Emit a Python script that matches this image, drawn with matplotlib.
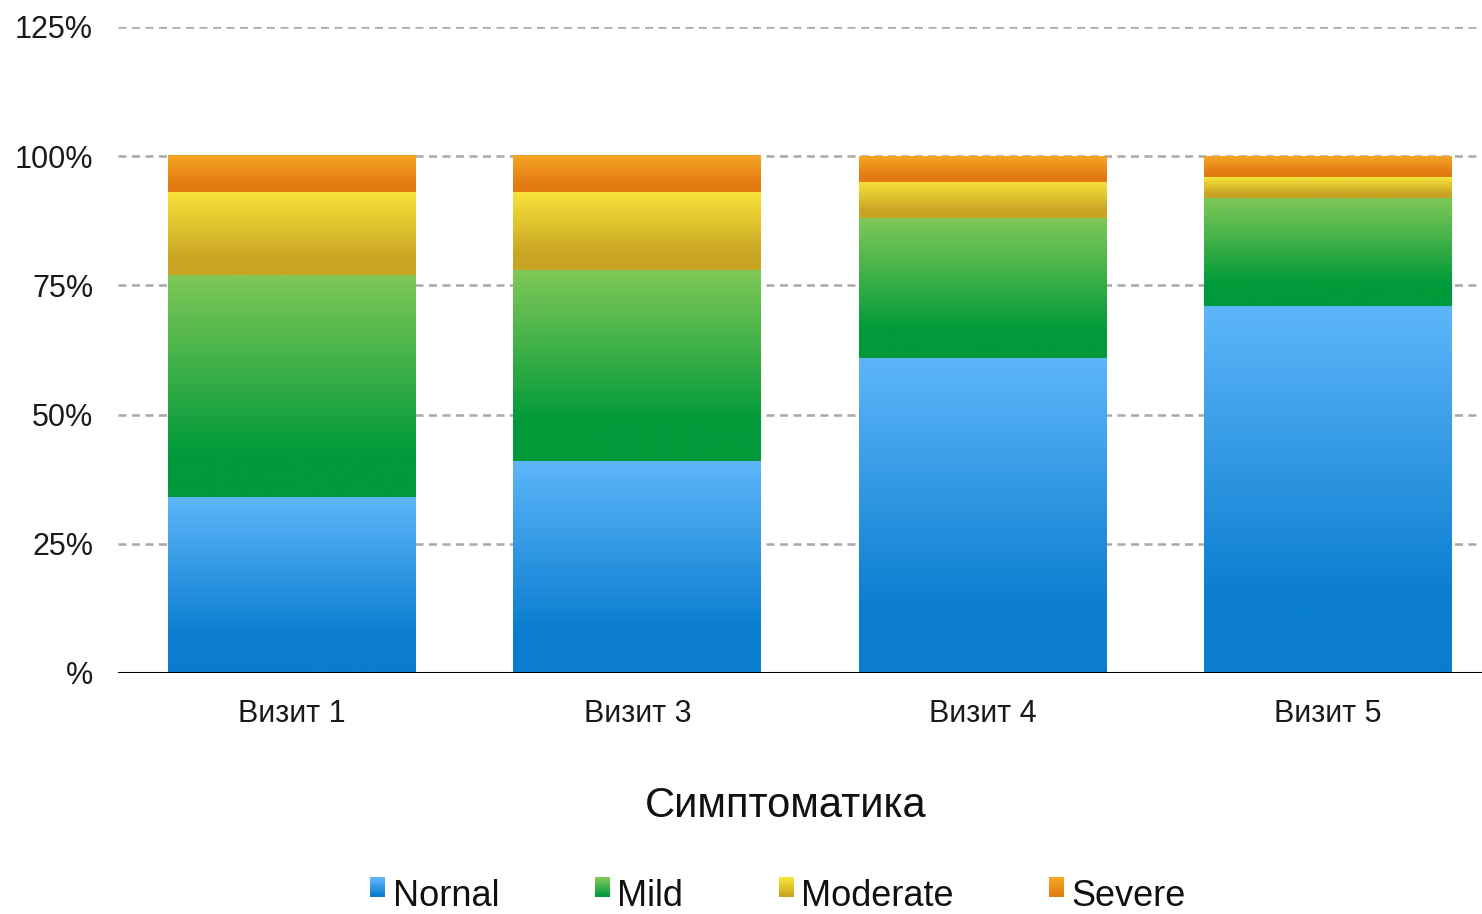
import numpy as np
import matplotlib
matplotlib.use("Agg")
import matplotlib.pyplot as plt
from matplotlib.colors import LinearSegmentedColormap, to_rgb
from matplotlib.legend_handler import HandlerBase
from matplotlib.patches import Rectangle

# ---- data ----
categories = ["Визит 1", "Визит 3", "Визит 4", "Визит 5"]
series_names = ["Nornal", "Mild", "Moderate", "Severe"]
normal = [34, 41, 61, 71]
mild = [43, 37, 27, 21]
moderate = [16, 15, 7, 4]
severe = [7, 7, 5, 4]
yticks = [0, 25, 50, 75, 100, 125]
ytick_labels = ["%", "25%", "50%", "75%", "100%", "125%"]
title = "Симптоматика"

# gradient colours (top, bottom)
grads = [
    ("#5db6f9", "#0a7dd0"),
    ("#80c857", "#009a3a"),
    ("#f8e33a", "#c9a423"),
    ("#f5a623", "#e37a12"),
]

plt.rcParams['font.family'] = ['Liberation Sans', 'DejaVu Sans']

W, H = 1482, 914
fig = plt.figure(figsize=(W / 100, H / 100), dpi=100)
ax = fig.add_axes([118 / W, (H - 673) / H, 1 - 118 / W, (673 - 27) / H])

x = np.arange(len(categories))
bar_w = 0.718
xlim = (-0.504, 3.446)
ylim = (0, 125)

def make_cmap(top, bottom):
    return LinearSegmentedColormap.from_list(
        "g", [(0.0, bottom), (0.2, bottom), (1.0, top)])

cmaps = [make_cmap(t, b) for t, b in grads]
grad_img = np.linspace(0, 1, 256).reshape(-1, 1)

data = [normal, mild, moderate, severe]
bottoms = np.zeros(len(categories))
for si, vals in enumerate(data):
    for ci, v in enumerate(vals):
        b = bottoms[ci]
        ax.imshow(grad_img, cmap=cmaps[si], origin="lower", aspect="auto",
                  extent=[x[ci] - bar_w / 2, x[ci] + bar_w / 2, b, b + v],
                  interpolation="bilinear", zorder=2)
    bottoms = bottoms + np.array(vals)

ax.set_xlim(*xlim)
ax.set_ylim(*ylim)

# grid
for yv in yticks[1:]:
    ax.axhline(yv, color="#a8a8a8", lw=1.8, ls=(0, (3.2, 2.2)), zorder=1)
ax.axhline(0, color="black", lw=2.2, zorder=3)

for s in ax.spines.values():
    s.set_visible(False)
ax.set_yticks(yticks)
ax.set_yticklabels(ytick_labels, fontsize=22, color="#1a1a1a")
ax.set_xticks(x)
ax.set_xticklabels(categories, fontsize=22, color="#1a1a1a")
ax.tick_params(axis="both", length=0)
ax.tick_params(axis="y", pad=18)
ax.tick_params(axis="x", pad=19)

fig.text(786 / W, (H - 806) / H, title, fontsize=30, ha="center", va="center",
         color="#111111")

# legend with gradient squares
class GradHandler(HandlerBase):
    def __init__(self, top, bottom):
        super().__init__()
        self.top = np.array(to_rgb(top))
        self.bottom = np.array(to_rgb(bottom))

    def create_artists(self, legend, orig_handle, xdescent, ydescent,
                       width, height, fontsize, trans):
        n = 12
        arts = []
        y0 = -ydescent + height * 0.35
        hh = height * 1.0
        for i in range(n):
            f = i / (n - 1)
            c = self.bottom * (1 - f) + self.top * f
            r = Rectangle((-xdescent, y0 + hh * i / n), width, hh / n + 0.3,
                          facecolor=c, edgecolor="none", transform=trans)
            arts.append(r)
        return arts

handles = [Rectangle((0, 0), 1, 1) for _ in series_names]
hmap = {h: GradHandler(t, b) for h, (t, b) in zip(handles, grads)}
fig.legend(handles, series_names, handler_map=hmap, loc="center",
           bbox_to_anchor=(778 / W, (H - 897) / H), ncol=4, frameon=False,
           fontsize=26, handlelength=0.42, handleheight=0.44,
           handletextpad=0.2, columnspacing=2.65, borderpad=0,
           labelcolor="#111111")

fig.savefig("out.png", dpi=100)
